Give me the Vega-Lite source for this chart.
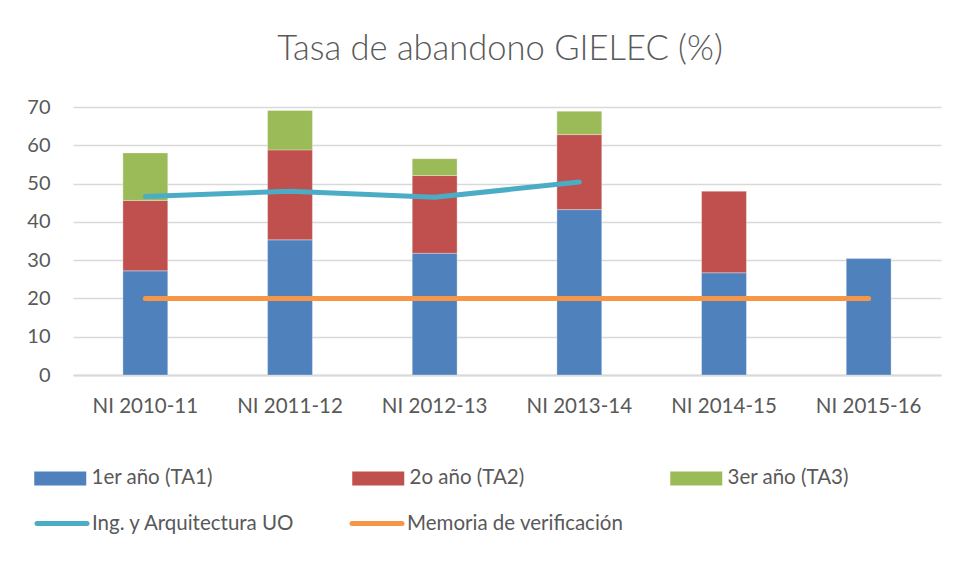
{
  "$schema": "https://vega.github.io/schema/vega-lite/v6.json",
  "width": 868,
  "height": 268,
  "autosize": {"type": "none"},
  "padding": {"left": 73, "top": 107, "right": 15, "bottom": 204},
  "background": "white",
  "config": {"view": {"stroke": null}},
  "title": {
    "text": "Tasa de abandono GIELEC (%)",
    "font": "Lato",
    "fontSize": 34.5,
    "fontWeight": 300,
    "color": "#595959",
    "anchor": "middle",
    "frame": "group",
    "dx": -7,
    "offset": 30
  },
  "datasets": {
    "bars": [
      {"curso": "NI 2010-11", "serie": "1er año (TA1)", "valor": 27.2},
      {"curso": "NI 2010-11", "serie": "2o año (TA2)", "valor": 18.4},
      {"curso": "NI 2010-11", "serie": "3er año (TA3)", "valor": 12.4},
      {"curso": "NI 2011-12", "serie": "1er año (TA1)", "valor": 35.3},
      {"curso": "NI 2011-12", "serie": "2o año (TA2)", "valor": 23.5},
      {"curso": "NI 2011-12", "serie": "3er año (TA3)", "valor": 10.3},
      {"curso": "NI 2012-13", "serie": "1er año (TA1)", "valor": 31.8},
      {"curso": "NI 2012-13", "serie": "2o año (TA2)", "valor": 20.3},
      {"curso": "NI 2012-13", "serie": "3er año (TA3)", "valor": 4.4},
      {"curso": "NI 2013-14", "serie": "1er año (TA1)", "valor": 43.2},
      {"curso": "NI 2013-14", "serie": "2o año (TA2)", "valor": 19.6},
      {"curso": "NI 2013-14", "serie": "3er año (TA3)", "valor": 6.1},
      {"curso": "NI 2014-15", "serie": "1er año (TA1)", "valor": 26.7},
      {"curso": "NI 2014-15", "serie": "2o año (TA2)", "valor": 21.3},
      {"curso": "NI 2015-16", "serie": "1er año (TA1)", "valor": 30.4}
    ],
    "lines": [
      {"curso": "NI 2010-11", "serie": "Ing. y Arquitectura UO", "valor": 46.6},
      {"curso": "NI 2011-12", "serie": "Ing. y Arquitectura UO", "valor": 48.0},
      {"curso": "NI 2012-13", "serie": "Ing. y Arquitectura UO", "valor": 46.4},
      {"curso": "NI 2013-14", "serie": "Ing. y Arquitectura UO", "valor": 50.4},
      {"curso": "NI 2010-11", "serie": "Memoria de verificación", "valor": 20},
      {"curso": "NI 2011-12", "serie": "Memoria de verificación", "valor": 20},
      {"curso": "NI 2012-13", "serie": "Memoria de verificación", "valor": 20},
      {"curso": "NI 2013-14", "serie": "Memoria de verificación", "valor": 20},
      {"curso": "NI 2014-15", "serie": "Memoria de verificación", "valor": 20},
      {"curso": "NI 2015-16", "serie": "Memoria de verificación", "valor": 20}
    ]
  },
  "encoding": {
    "x": {
      "field": "curso",
      "type": "nominal",
      "sort": null,
      "title": null,
      "scale": {"paddingInner": 0.69, "paddingOuter": 0.345},
      "axis": {
        "labelAngle": 0,
        "labelFont": "Lato",
        "labelFontSize": 20.5,
        "labelColor": "#595959",
        "labelPadding": 21,
        "ticks": false,
        "domainColor": "#d9d9d9",
        "domainWidth": 2,
        "grid": false
      }
    },
    "y": {
      "field": "valor",
      "type": "quantitative",
      "title": null,
      "scale": {"domain": [0, 70], "nice": false},
      "axis": {
        "values": [0, 10, 20, 30, 40, 50, 60, 70],
        "labelFont": "Lato",
        "labelFontSize": 20,
        "labelColor": "#595959",
        "labelPadding": 23,
        "ticks": false,
        "domain": false,
        "gridColor": "#d9d9d9",
        "gridWidth": 1.3
      }
    }
  },
  "layer": [
    {
      "data": {"name": "bars"},
      "mark": {"type": "bar", "stroke": "white", "strokeWidth": 0.5, "strokeOpacity": 0.6},
      "encoding": {
        "y": {"field": "valor", "type": "quantitative", "stack": "zero"},
        "order": {"field": "serie", "type": "nominal", "sort": "ascending"},
        "fill": {
          "field": "serie",
          "type": "nominal",
          "scale": {
            "domain": ["1er año (TA1)", "2o año (TA2)", "3er año (TA3)"],
            "range": ["#4f81bd", "#c0504d", "#9bbb59"]
          },
          "legend": {
            "title": null,
            "orient": "none",
            "legendX": -39,
            "legendY": 361,
            "direction": "horizontal",
            "columns": 3,
            "gridAlign": "all",
            "columnPadding": 139,
            "symbolType": "M-1,-0.7H4.2V0.7H-1Z",
            "symbolSize": 400,
            "symbolStrokeWidth": 0,
            "labelFont": "Lato",
            "labelFontSize": 20.5,
            "labelLimit": 400,
            "labelColor": "#595959",
            "labelOffset": 37
          }
        }
      }
    },
    {
      "data": {"name": "lines"},
      "mark": {"type": "line", "strokeWidth": 5, "strokeCap": "round", "strokeJoin": "round"},
      "encoding": {
        "stroke": {
          "field": "serie",
          "type": "nominal",
          "scale": {
            "domain": ["Ing. y Arquitectura UO", "Memoria de verificación"],
            "range": ["#4bacc6", "#f79646"]
          },
          "legend": {
            "title": null,
            "orient": "none",
            "legendX": -39,
            "legendY": 404,
            "direction": "horizontal",
            "columns": 2,
            "gridAlign": "each",
            "columnPadding": 46,
            "symbolType": "M-0.95,0H4.05",
            "symbolSize": 400,
            "symbolStrokeWidth": 5,
            "labelFont": "Lato",
            "labelFontSize": 20.5,
            "labelLimit": 400,
            "labelColor": "#595959",
            "labelOffset": 33,
            "encode": {"symbols": {"update": {"strokeCap": {"value": "round"}}}}
          }
        }
      }
    }
  ]
}
